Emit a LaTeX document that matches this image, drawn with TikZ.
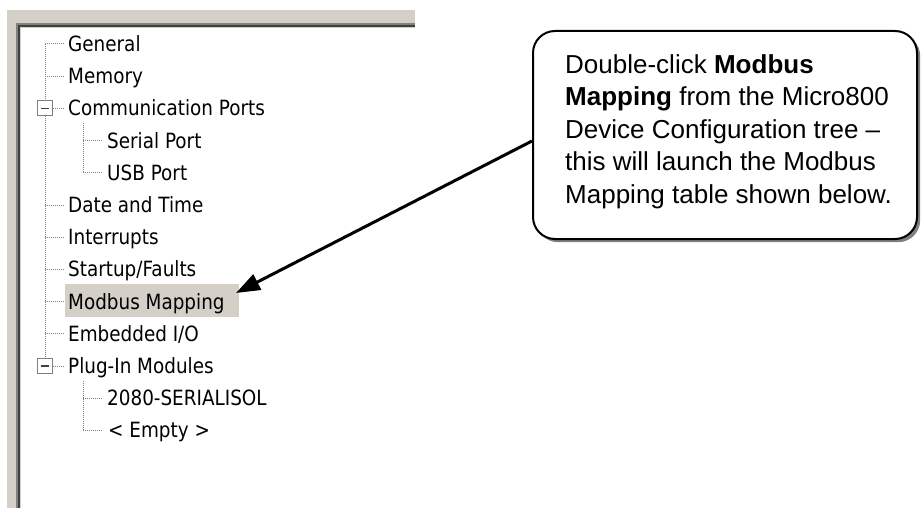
\documentclass[tikz,border=0pt]{standalone}
\usepackage{fontspec}
\setmainfont{Liberation Sans}
\newfontfamily\tahoma[FakeStretch=0.875]{DejaVu Sans}
\usetikzlibrary{arrows.meta}
\definecolor{wingray}{HTML}{D4D0C8}
\definecolor{dkgray}{HTML}{808080}
\definecolor{darkline}{HTML}{404040}
\definecolor{shadowgray}{HTML}{808080}
\begin{document}
\begin{tikzpicture}[x=1pt,y=-1pt,
  item/.style={anchor=base west, inner sep=0pt, font=\tahoma\fontsize{21}{25}\selectfont},
  treeline/.style={draw=dkgray, line width=1pt, dash pattern=on 1pt off 1pt},
  minusbox/.style={draw=dkgray, line width=1pt, fill=white, minimum size=15pt, inner sep=0pt},
  callbox/.style={rounded corners=22pt, minimum width=384pt, minimum height=208pt, inner sep=0pt, anchor=north west},
  pointer/.style={line width=3pt, -{Triangle[length=24pt,width=17pt]}}
]
\useasboundingbox (0,0) rectangle (921,508);
% window panel
\fill[wingray] (7,10) rectangle (415,508);
\fill[white] (21,28) rectangle (415,508);
\draw[dkgray, line width=2pt] (17,508) -- (17,24) -- (415,24);
\draw[darkline, line width=2pt] (19,508) -- (19,26) -- (415,26);
% highlight of selected item
\fill[wingray] (65,284) rectangle (239,317);
% expand boxes
\node[minusbox] (bx1) at (45,108.4) {};
\node[minusbox] (bx2) at (45,366) {};
\draw[line width=1.6pt, darkline] ([xshift=-4pt]bx1.center) -- ([xshift=4pt]bx1.center);
\draw[line width=1.6pt, darkline] ([xshift=-4pt]bx2.center) -- ([xshift=4pt]bx2.center);
% tree lines
\draw[treeline] (45,44) -- (bx1.north);
\draw[treeline] (bx1.south) -- (bx2.north);
\foreach \y in {44,76.2,205,237.2,269.4,301.6,333.8} {\draw[treeline] (45,\y) -- (65,\y);}
\draw[treeline] (bx1.east) -- (65,108.4);
\draw[treeline] (bx2.east) -- (65,366);
\draw[treeline] (83,123) -- (83,172.8);
\draw[treeline] (83,140.6) -- (103,140.6);
\draw[treeline] (83,172.8) -- (103,172.8);
\draw[treeline] (83,381) -- (83,430.4);
\draw[treeline] (83,398.2) -- (103,398.2);
\draw[treeline] (83,430.4) -- (103,430.4);
% items
\node[item] (general) at (68,51.5) {General};
\node[item] (memory) at (68,83.7) {Memory};
\node[item] (comm) at (68,115.9) {Communication Ports};
\node[item] (serial) at (107,148.1) {Serial Port};
\node[item] (usb) at (107,180.3) {USB Port};
\node[item] (date) at (68,212.5) {Date and Time};
\node[item] (intr) at (68,244.7) {Interrupts};
\node[item] (startup) at (68,276.9) {Startup/Faults};
\node[item] (modbus) at (68,309.1) {Modbus Mapping};
\node[item] (embedded) at (68,341.3) {Embedded I/O};
\node[item] (plugin) at (68,373.5) {Plug-In Modules};
\node[item] (serialisol) at (107,405.7) {2080-SERIALISOL};
\node[item] (empty) at (108,437.9) {< Empty >};
% callout
\node[callbox, fill=shadowgray] (shadow) at (536,34) {};
\node[callbox, draw=black, line width=2pt, fill=white] (callout) at (532,30) {};
\node[anchor=north west, inner sep=0pt, align=left, font=\fontsize{26}{32.5}\selectfont] (txt) at (565,54)
  {Double-click \textbf{Modbus}\\ \textbf{Mapping} from the Micro800\\ Device Configuration tree –\\ this will launch the Modbus\\ Mapping table shown below.};
\coordinate (tip) at (236,293);
\draw[pointer] ([yshift=-6pt]callout.west) -- (tip);
\end{tikzpicture}
\end{document}
